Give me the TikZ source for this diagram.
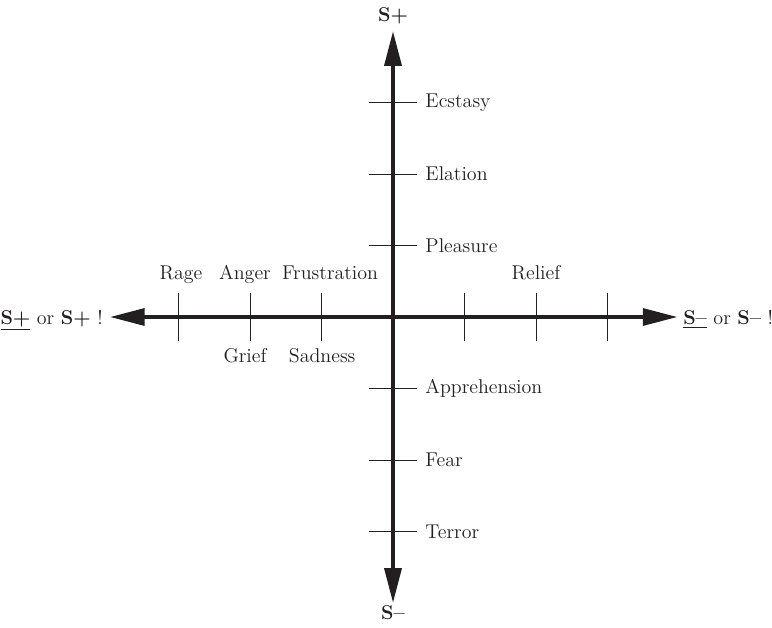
\documentclass[tikz,border=0pt]{standalone}
\usetikzlibrary{arrows.meta}
\definecolor{ink}{RGB}{35,31,32}
\tikzset{
  axisline/.style={ink,line width=2.8pt,{Triangle[length=0.87cm,width=0.42cm]}-{Triangle[length=0.87cm,width=0.42cm]}},
  tickline/.style={ink,line width=0.7pt},
  lbl/.style={ink,font=\fontsize{14.2}{16}\selectfont,inner sep=0pt},
}
\begin{document}
\begin{tikzpicture}[x=1.7875cm,y=1.7875cm]
\useasboundingbox (-5.497,-4.336) rectangle (5.301,4.434);
% ends of the axes
\coordinate (top) at (0,4);
\coordinate (bottom) at (0,-4);
\coordinate (left) at (-3.96,0);
\coordinate (right) at (3.98,0);
\draw[axisline] (bottom) -- (top);
\draw[axisline] (left) -- (right);
% ticks
\foreach \k in {-3,-2,-1,1,2,3} {
  \coordinate (v\k) at (0,\k);
  \coordinate (h\k) at (\k,0);
  \draw[tickline] ([xshift=-0.6cm]v\k) -- ([xshift=0.6cm]v\k);
  \draw[tickline] ([yshift=-0.6cm]h\k) -- ([yshift=0.6cm]h\k);
}
% axis ends
\node[lbl] (splus) at (0,4.22) {\textbf{S+}};
\node[lbl] (sminus) at (0,-4.13) {\textbf{S--}};
\node[lbl,anchor=base east] (lend) at (-4.056,-0.11) {\underline{\textbf{S+}} or \textbf{S+}~!};
\node[lbl,anchor=base west] (rend) at (4.056,-0.11) {\underline{\textbf{S--}} or \textbf{S--}~!};
% vertical axis
\node[lbl,anchor=west] (ecstasy) at (0.45,3) {Ecstasy};
\node[lbl,anchor=west] (elation) at (0.45,2) {Elation};
\node[lbl,anchor=west] (pleasure) at (0.45,1) {Pleasure};
\node[lbl,anchor=west] (appr) at (0.45,-1) {Apprehension};
\node[lbl,anchor=west] (fear) at (0.45,-2) {Fear};
\node[lbl,anchor=west] (terror) at (0.45,-3) {Terror};
% horizontal axis
\node[lbl,anchor=base] (rage) at (-2.965,0.52) {Rage};
\node[lbl,anchor=base] (anger) at (-2.07,0.52) {Anger};
\node[lbl,anchor=base] (frustr) at (-0.88,0.52) {Frustration};
\node[lbl,anchor=base] (relief) at (2.0,0.52) {Relief};
\node[lbl,anchor=base] (grief) at (-2.07,-0.63) {Grief};
\node[lbl,anchor=base] (sadness) at (-0.99,-0.63) {Sadness};
\end{tikzpicture}
\end{document}
